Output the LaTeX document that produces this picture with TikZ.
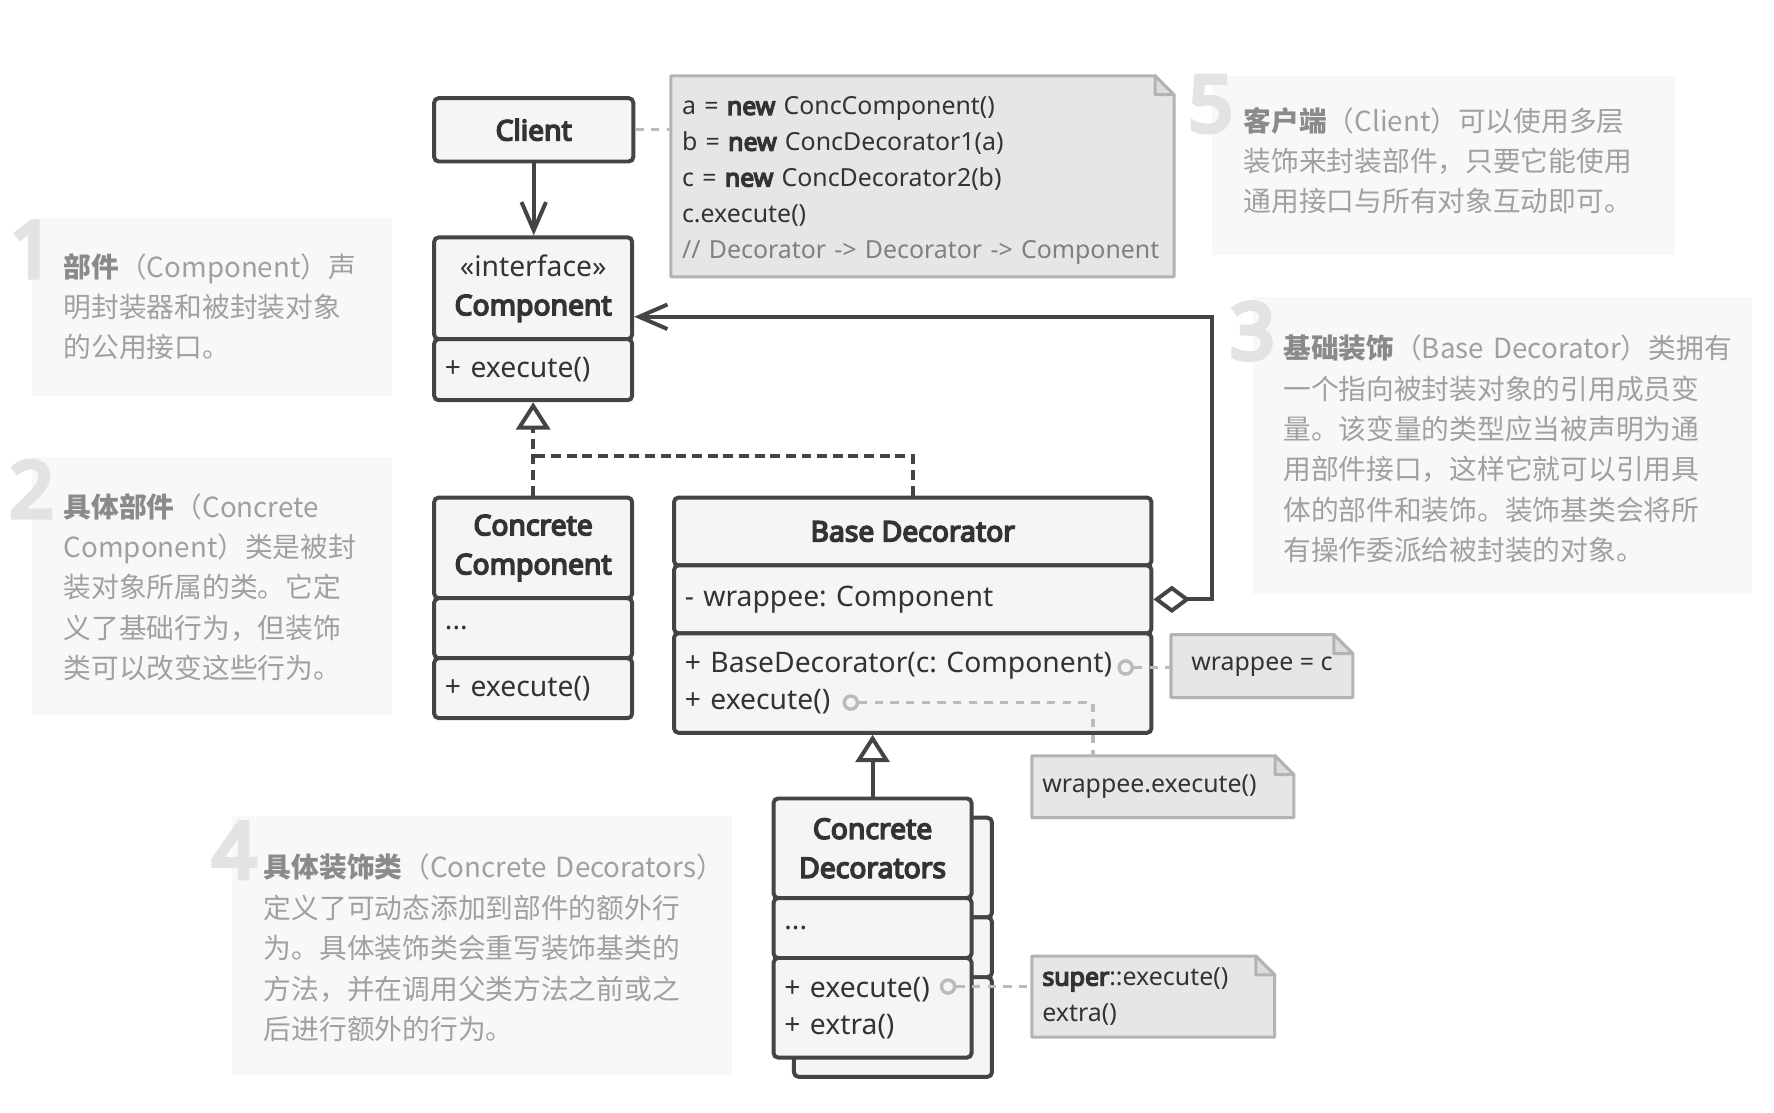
\documentclass[tikz,border=0pt]{standalone}
\usepackage{fontspec}
\setmainfont{Noto Sans}[BoldFont={Noto Sans}, BoldFeatures={FakeBold=5.4}]
\newfontfamily\cjk{Noto Sans CJK SC}
\newfontfamily\digitf{Noto Sans}[FakeBold=6.5]
\frenchspacing
\usetikzlibrary{arrows.meta}
\definecolor{edgec}{HTML}{444444}
\definecolor{boxc}{HTML}{F5F5F5}
\definecolor{txtc}{HTML}{333333}
\definecolor{notefill}{HTML}{E6E6E6}
\definecolor{notedraw}{HTML}{B3B3B3}
\definecolor{foldc}{HTML}{DCDCDC}
\definecolor{dotc}{HTML}{BBBBBB}
\definecolor{expbgc}{HTML}{F8F8F8}
\definecolor{expbold}{HTML}{8A8A8A}
\definecolor{exptxt}{HTML}{A0A0A0}
\definecolor{digitc}{HTML}{E3E3E3}
\definecolor{commentc}{HTML}{808080}
\pgfdeclarelayer{background}
\pgfsetlayers{background,main}
\newcommand\notefold[1]{%
  \begin{pgfonlayer}{background}
    \draw[draw=notedraw, fill=notefill, line width=1.6pt, line join=round]
      (#1.north west) -- ([xshift=-10pt]#1.north east) -- ([yshift=-10pt]#1.north east)
      -- (#1.south east) -- (#1.south west) -- cycle;
    \draw[draw=notedraw, fill=foldc, line width=1.6pt, line join=round]
      ([xshift=-10pt]#1.north east) -- ([xshift=-10pt,yshift=-10pt]#1.north east)
      -- ([yshift=-10pt]#1.north east) -- cycle;
  \end{pgfonlayer}}
\tikzset{
  cls/.style={draw=edgec, fill=boxc, line width=2.1pt, rounded corners=2.4pt,
    inner xsep=0pt, inner ysep=0pt, anchor=north west, text=txtc,
    font=\fontsize{15}{20.7}\selectfont, align=center},
  mem/.style={cls, align=left, inner xsep=5.7pt, font=\fontsize{15}{19.5}\selectfont},
  notebox/.style={anchor=north west, inner ysep=0pt, inner xsep=5.4pt, text=txtc,
    font=\fontsize{13.2}{19}\selectfont},
  expbox/.style={fill=expbgc, draw=none, anchor=north west, inner sep=0pt},
  exptext/.style={anchor=base west, inner sep=0pt, text width=280pt, align=left,
    font=\cjk\fontsize{14.7}{21.4}\selectfont, text=exptxt},
  digit/.style={anchor=base east, inner sep=0pt,
    font=\digitf\fontsize{41}{41}\selectfont, text=digitc},
  conn/.style={draw=edgec, line width=2.1pt},
  dashl/.style={conn, dash pattern=on 5.3pt off 3pt},
  openv/.style={-{Straight Barb[length=15pt,width=13pt]}},
  realz/.style={-{Triangle[length=14.5pt,width=18pt,fill=white]}},
  aggr/.style={{Diamond[length=19.5pt,width=14.5pt,fill=white]}-{Straight Barb[length=15pt,width=13pt]}},
  dotl/.style={draw=dotc, line width=1.7pt, dash pattern=on 4.4pt off 3.9pt},
  pin/.style={circle, draw=dotc, line width=1.8pt, fill=boxc, minimum size=7pt, inner sep=0pt},
}
\begin{document}
\begin{tikzpicture}[x=0.6pt, y=-0.6pt]
\useasboundingbox (0,0) rectangle (1568,983);

% ---------- explanation notes ----------
\node[expbox, minimum width=190.8pt, minimum height=94.8pt] (e1bg) at (28,192) {};
\node[digit] (d1) at (48,245) {1};
\node[exptext] (e1) at (56,245) {{\bfseries\color{expbold}部件}（Component）声\\明封装器和被封装对象\\的公用接口。};

\node[expbox, minimum width=190.8pt, minimum height=136.8pt] (e2bg) at (28,404) {};
\node[digit] (d2) at (48,457) {2};
\node[exptext] (e2) at (56,457) {{\bfseries\color{expbold}具体部件}（Concrete\\Component）类是被封\\装对象所属的类。它定\\义了基础行为，但装饰\\类可以改变这些行为。};

\node[expbox, minimum width=264.6pt, minimum height=157.8pt] (e3bg) at (1107,262) {};
\node[digit] (d3) at (1127,317) {3};
\node[exptext] (e3) at (1134,317) {{\bfseries\color{expbold}基础装饰}（Base Decorator）类拥有\\一个指向被封装对象的引用成员变\\量。该变量的类型应当被声明为通\\用部件接口，这样它就可以引用具\\体的部件和装饰。装饰基类会将所\\有操作委派给被封装的对象。};

\node[expbox, minimum width=265.2pt, minimum height=137.4pt] (e4bg) at (205,721) {};
\node[digit] (d4) at (227,776) {4};
\node[exptext] (e4) at (233,776) {{\bfseries\color{expbold}具体装饰类}（Concrete Decorators）\\定义了可动态添加到部件的额外行\\为。具体装饰类会重写装饰基类的\\方法，并在调用父类方法之前或之\\后进行额外的行为。};

\node[expbox, minimum width=245.4pt, minimum height=94.8pt] (e5bg) at (1071,67) {};
\node[digit] (d5) at (1090,116) {5};
\node[exptext] (e5) at (1099,116) {{\bfseries\color{expbold}客户端}（Client）可以使用多层\\装饰来封装部件，只要它能使用\\通用接口与所有对象互动即可。};

% ---------- notes ----------
\node[notebox, minimum width=266.4pt, minimum height=106.2pt, text width=255pt, align=left] (codenote) at (593,67)
  {\rule{0pt}{14pt}a = \textbf{new} ConcComponent()\\
   b = \textbf{new} ConcDecorator1(a)\\
   c = \textbf{new} ConcDecorator2(b)\\
   c.execute()\\
   \textcolor{commentc}{// Decorator -> Decorator -> Component}};
\notefold{codenote}

\node[notebox, minimum width=96pt, minimum height=33pt, align=center] (wnote) at (1035,561) {wrappee = c};
\notefold{wnote}

\node[notebox, minimum width=138.6pt, minimum height=32.4pt, text width=127.8pt, align=left] (wexec) at (912,668) {wrappee.execute()};
\notefold{wexec}

\node[notebox, minimum width=128.4pt, minimum height=42.6pt, text width=117.6pt, align=left] (supnote) at (912,845)
  {\textbf{super}::execute()\\extra()};
\notefold{supnote}

% ---------- classes ----------
\node[cls, minimum width=105.6pt, minimum height=33.6pt] (client) at (382,85) {\textbf{Client}};

\node[cls, minimum width=105pt, minimum height=54pt] (comptitle) at (382,208) {«interface»\\\textbf{Component}};
\node[mem, minimum width=105pt, minimum height=32.4pt, text width=93.6pt] (compops) at (382,298) {+ execute()};

\node[cls, minimum width=105pt, minimum height=53.4pt] (cctitle) at (382,438) {\textbf{Concrete}\\\textbf{Component}};
\node[mem, minimum width=105pt, minimum height=31.8pt, text width=93.6pt] (ccattr) at (382,527) {...};
\node[mem, minimum width=105pt, minimum height=31.8pt, text width=93.6pt] (ccops) at (382,580) {+ execute()};

\node[cls, minimum width=253.2pt, minimum height=36pt] (bdtitle) at (594,438) {\textbf{Base Decorator}};
\node[mem, minimum width=253.2pt, minimum height=36pt, text width=241.8pt] (bdattr) at (594,498) {- wrappee: Component};
\node[mem, minimum width=253.2pt, minimum height=52.8pt, text width=241.8pt] (bdops) at (594,558) {+ BaseDecorator(c: Component)\\+ execute()};

% back copy of concrete decorators
\node[cls, minimum width=105pt, minimum height=52.8pt] (cdbtitle) at (700,721) {};
\node[cls, minimum width=105pt, minimum height=31.8pt] (cdbattr) at (700,809) {};
\node[cls, minimum width=105pt, minimum height=52.8pt] (cdbops) at (700,862) {};
% front
\node[cls, minimum width=105pt, minimum height=52.8pt] (cdtitle) at (682,704) {\textbf{Concrete}\\\textbf{Decorators}};
\node[mem, minimum width=105pt, minimum height=31.8pt, text width=93.6pt] (cdattr) at (682,792) {...};
\node[mem, minimum width=105pt, minimum height=52.8pt, text width=93.6pt] (cdops) at (682,845) {+ execute()\\+ extra()};

% ---------- connectors ----------
\draw[conn, openv] (client.south) -- (client.south |- comptitle.north);
\coordinate (aggcorner) at (1071,280);
\draw[conn, aggr] (bdattr.east) -| (aggcorner) -- (aggcorner -| comptitle.east);
\draw[dashl, realz] (cctitle.north) -- (cctitle.north |- compops.south);
\coordinate (realj) at (469.5,403);
\draw[dashl] (bdtitle.north) |- (realj);
\draw[conn, realz] (cdtitle.north) -- (cdtitle.north |- bdops.south);

\draw[dotl] (client.east) -- (client.east -| codenote.west);
\node[pin] (pinA) at (995,590) {};
\node[pin] (pinB) at (752,621) {};
\node[pin] (pinC) at (838,872) {};
\coordinate (wexecin) at (966,668);
\draw[dotl] (pinA.east) -- (pinA.east -| wnote.west);
\draw[dotl] (pinB.east) -| (wexecin);
\draw[dotl] (pinC.east) -- (pinC.east -| supnote.west);
\end{tikzpicture}
\end{document}
